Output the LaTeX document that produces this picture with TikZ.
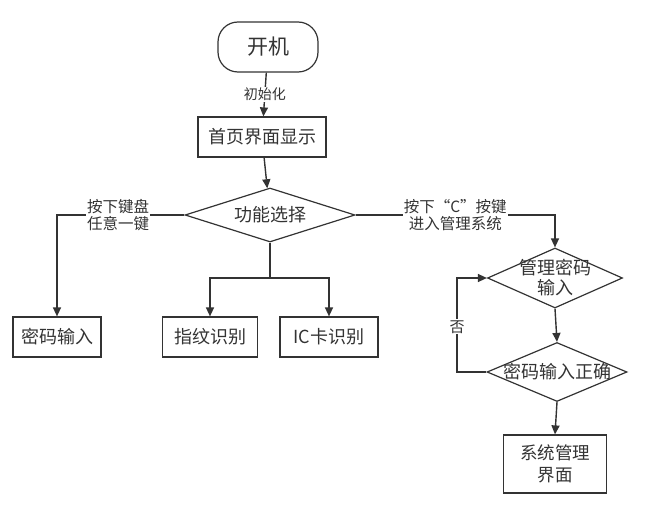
\documentclass[tikz,border=0pt]{standalone}
\usepackage{fontspec}
\setmainfont{Noto Sans CJK SC}
\usetikzlibrary{arrows.meta,shapes.geometric}

\begin{document}
\begin{tikzpicture}[x=1pt,y=-1pt,>={Triangle[length=9pt,width=8pt]},
  line width=1.4pt,draw=black!80,text=black!80,
  box/.style={draw,rectangle,line width=1.2pt,minimum height=40pt,inner sep=2pt,font=\fontsize{18}{21}\selectfont},
  choice/.style={draw,diamond,line width=1.2pt,inner sep=0pt},
  ctext/.style={font=\fontsize{18}{20}\selectfont,align=center},
  elabel/.style={fill=white,inner sep=1pt,align=center,font=\fontsize{15.5}{17}\selectfont}]
\useasboundingbox (0,0) rectangle (665,511);
% start and first screen
\node[box,rounded corners=20pt,minimum width=100pt,minimum height=50pt,font=\fontsize{21}{24}\selectfont] (on) at (268,47) {开机};
\node[box,minimum width=128pt] (home) at (262,137) {首页界面显示};
% main choice
\node[choice,minimum width=170pt,minimum height=54pt] (sel) at (270,215) {};
\node[ctext] (seltext) at (sel) {功能选择};
% three ways in
\node[box,minimum width=88pt] (pwd) at (57,337) {密码输入};
\node[box,minimum width=95pt] (fp) at (210,337) {指纹识别};
\node[box,minimum width=98pt] (ic) at (329,337) {IC卡识别};
% admin branch
\node[choice,minimum width=135pt,minimum height=60pt] (adm) at (555,278) {};
\node[ctext] (admtext) at (adm) {管理密码\\输入};
\node[choice,minimum width=140pt,minimum height=59pt] (ok) at (557,372) {};
\node[ctext] (oktext) at (ok) {密码输入正确};
\node[box,minimum width=103pt,minimum height=58pt,align=center,font=\fontsize{17.5}{22}\selectfont] (sys) at (555,464) {系统管理\\界面};
\coordinate (split) at (270,278);
\coordinate (loop) at (457,372);
% connectors
\draw[->] (on) -- (home) node[midway,elabel,font=\fontsize{14}{16}\selectfont] {初始化};
\draw[->] (home) -- (sel);
\draw[->] (sel.west) -| (pwd.north) node[pos=0.26,elabel] {按下键盘\\任意一键};
\draw (sel.south) -- (split);
\draw[->] (split) -| (fp.north);
\draw[->] (split) -| (ic.north);
\draw[->] (sel.east) -| (adm.north) node[pos=0.25,elabel] {按下“C”按键\\进入管理系统};
\draw[->] (adm.south) -- (ok.north);
\draw[->] (ok.south) -- (sys.north);
\draw[->] (ok.west) -- (loop) |- (adm.west) node[pos=0.24,elabel,font=\fontsize{15}{17}\selectfont] {否};
\end{tikzpicture}
\end{document}
